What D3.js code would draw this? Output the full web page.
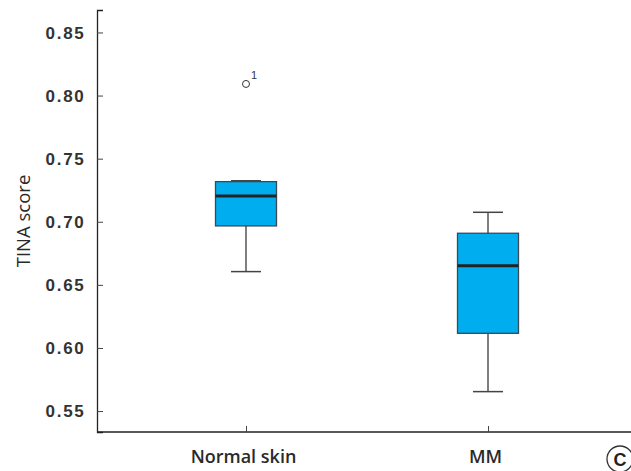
<!DOCTYPE html>
<html>
<head>
<meta charset="utf-8">
<script src="https://cdn.jsdelivr.net/npm/d3@7"></script>
<style>
  body { margin: 0; background: #fff; }
  text { font-family: "Liberation Sans", Arial, sans-serif; }
</style>
</head>
<body>
<div id="chart"></div>
<script>
// box plot values
var groups = ["Normal skin", "MM"];
var lowWhisker = [0.6605, 0.5654];
var q1 = [0.6967, 0.6116];
var medians = [0.7204, 0.6652];
var q3 = [0.7318, 0.6909];
var highWhisker = [0.7325, 0.7075];
var outliers = [{group: "Normal skin", value: 0.8092, label: "1"}];
var yTicks = [0.55, 0.60, 0.65, 0.70, 0.75, 0.80, 0.85];

var width = 631, height = 471;
var margin = {top: 10, right: 0, bottom: 39, left: 97};

var svg = d3.select('#chart').append('svg')
    .attr('width', width)
    .attr('height', height);

var y = d3.scaleLinear()
    .domain([0.5334, 0.8678])
    .range([height - margin.bottom, margin.top]);

var x = d3.scalePoint()
    .domain(groups)
    .range([246, 488]);

// y axis, ticks point inward
var yAxis = svg.append('g')
    .attr('transform', 'translate(' + margin.left + ',0)')
    .call(d3.axisRight(y).tickValues(yTicks).tickSize(6).tickFormat(''));
yAxis.select('.domain').attr('stroke', '#222').attr('stroke-width', 1.3);
yAxis.selectAll('.tick line').attr('stroke', '#444');

svg.append('g').selectAll('text')
    .data(yTicks)
    .enter()
    .append('text')
    .attr('x', 85.5)
    .attr('y', d => y(d))
    .attr('dy', '0.36em')
    .attr('text-anchor', 'end')
    .attr('font-size', 17)
    .attr('font-weight', 'bold')
    .attr('letter-spacing', 1.7)
    .attr('fill', '#333')
    .text(d => d.toFixed(2));

// x axis
var xAxis = svg.append('g')
    .attr('transform', 'translate(0,' + (height - margin.bottom) + ')')
    .call(d3.axisTop(x).tickSize(6).tickSizeOuter(0).tickFormat(''));
xAxis.select('.domain')
    .attr('d', 'M' + margin.left + ',0H' + width)
    .attr('stroke', '#222').attr('stroke-width', 1.3);
xAxis.selectAll('.tick line').attr('stroke', '#444');

svg.append('g').selectAll('text')
    .data(groups)
    .enter()
    .append('text')
    .attr('x', d => x(d) - 2.5)
    .attr('y', 463)
    .attr('text-anchor', 'middle')
    .style('font-family', '"Open Sans", sans-serif')
    .attr('font-size', 18)
    .attr('font-weight', 600)
    .attr('fill', '#2a2a2a')
    .text(d => d);

// axis title
svg.append('text')
    .attr('transform', 'translate(29.5,221) rotate(-90)')
    .attr('text-anchor', 'middle')
    .style('font-family', '"Open Sans", sans-serif')
    .attr('font-size', 18.5)
    .attr('fill', '#2a2a2a')
    .text('TINA score');

// boxes
var boxW = 61, capW = 30;
var box = svg.append('g').selectAll('g')
    .data(groups)
    .enter()
    .append('g');

box.append('line')
    .attr('x1', d => x(d)).attr('x2', d => x(d))
    .attr('y1', (d, i) => y(lowWhisker[i]))
    .attr('y2', (d, i) => y(highWhisker[i]))
    .attr('stroke', '#555').attr('stroke-width', 1.5);

box.append('line')
    .attr('x1', d => x(d) - capW / 2).attr('x2', d => x(d) + capW / 2)
    .attr('y1', (d, i) => y(lowWhisker[i]))
    .attr('y2', (d, i) => y(lowWhisker[i]))
    .attr('stroke', '#444').attr('stroke-width', 1.5);

box.append('line')
    .attr('x1', d => x(d) - capW / 2).attr('x2', d => x(d) + capW / 2)
    .attr('y1', (d, i) => y(highWhisker[i]))
    .attr('y2', (d, i) => y(highWhisker[i]))
    .attr('stroke', '#444').attr('stroke-width', 1.5);

box.append('rect')
    .attr('x', d => x(d) - boxW / 2)
    .attr('width', boxW)
    .attr('y', (d, i) => y(q3[i]))
    .attr('height', (d, i) => y(q1[i]) - y(q3[i]))
    .attr('fill', '#00adee')
    .attr('stroke', '#3a4a55').attr('stroke-width', 1.3);

box.append('line')
    .attr('x1', d => x(d) - boxW / 2).attr('x2', d => x(d) + boxW / 2)
    .attr('y1', (d, i) => y(medians[i]))
    .attr('y2', (d, i) => y(medians[i]))
    .attr('stroke', '#222').attr('stroke-width', 3);

// outliers
var out = svg.append('g').selectAll('g')
    .data(outliers)
    .enter()
    .append('g');
out.append('circle')
    .attr('cx', d => x(d.group))
    .attr('cy', d => y(d.value))
    .attr('r', 3.5)
    .attr('fill', 'none')
    .attr('stroke', '#333').attr('stroke-width', 1);
out.append('text')
    .attr('x', d => x(d.group) + 5)
    .attr('y', d => y(d.value) - 5)
    .attr('font-size', 11)
    .attr('fill', '#333')
    .text(d => d.label);

// panel letter
svg.append('circle')
    .attr('cx', 620).attr('cy', 459).attr('r', 13)
    .attr('fill', 'none').attr('stroke', '#333').attr('stroke-width', 1.3);
svg.append('text')
    .attr('x', 620).attr('y', 465.5)
    .attr('text-anchor', 'middle')
    .attr('font-size', 18).attr('font-weight', 'bold')
    .attr('fill', '#222')
    .text('C');
</script>
</body>
</html>
